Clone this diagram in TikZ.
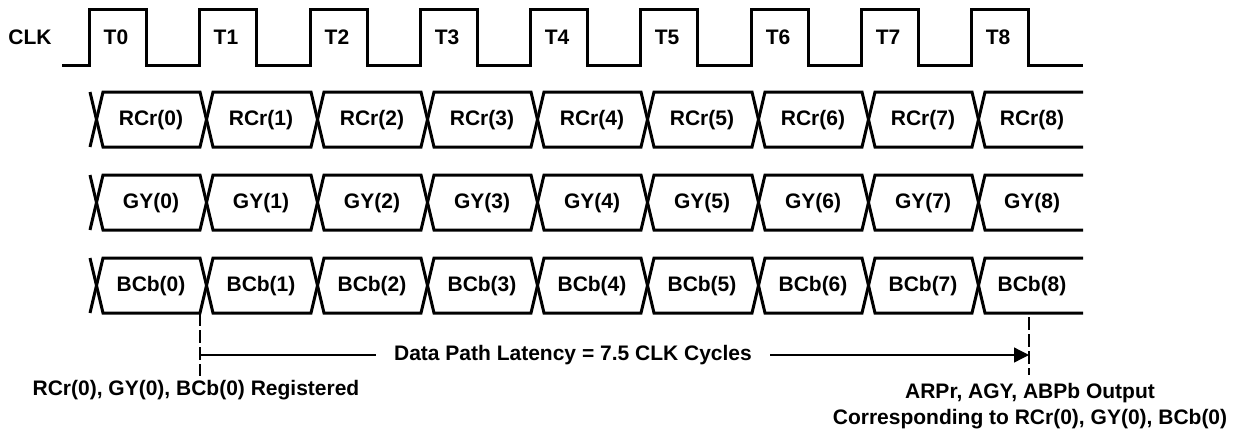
\documentclass[tikz,border=0pt]{standalone}
\usepackage{fontspec}
\setmainfont{Liberation Sans}
\usepackage{tikz}
\usetikzlibrary{arrows.meta}

\tikzset{
  wave/.style={line width=1.5pt, line join=miter, line cap=butt},
  lbl/.style={font=\fontsize{10.5}{13}\selectfont\bfseries, inner sep=0pt},
  mark line/.style={line width=0.65pt, dash pattern=on 6.5pt off 2pt},
  latency/.style={line width=0.65pt}
}

\newcommand{\datarails}{%
  \draw[wave] (90,0)--(103,55)--(200,55)--(213,0)--(311,0)--(324,55)--(421,55)--(434,0)--(531,0)--(544,55)--(641,55)--(654,0)--(752,0)--(765,55)--(862,55)--(875,0)--(972,0)--(985,55)--(1083,55);
  \draw[wave] (90,55)--(103,0)--(200,0)--(213,55)--(311,55)--(324,0)--(421,0)--(434,55)--(531,55)--(544,0)--(641,0)--(654,55)--(752,55)--(765,0)--(862,0)--(875,55)--(972,55)--(985,0)--(1083,0);
}

\begin{document}
\begin{tikzpicture}[x=0.5pt, y=-0.5pt]
\useasboundingbox (0,0) rectangle (1238,435);

\draw[wave] (62,65)--(89,65)--(89,9)--(146,9)--(146,65)--(199,65)--(199,9)--(256,9)--(256,65)
  --(310,65)--(310,9)--(367,9)--(367,65)--(420,65)--(420,9)--(477,9)--(477,65)
  --(530,65)--(530,9)--(587,9)--(587,65)--(640,65)--(640,9)--(697,9)--(697,65)
  --(751,65)--(751,9)--(808,9)--(808,65)--(861,65)--(861,9)--(918,9)--(918,65)
  --(971,65)--(971,9)--(1028,9)--(1028,65)--(1083,65);

\node[lbl] (clk) at (30,37) {CLK};
\node[lbl] (t0) at (116,37) {T0};
\node[lbl] (t1) at (226,37) {T1};
\node[lbl] (t2) at (337,37) {T2};
\node[lbl] (t3) at (447,37) {T3};
\node[lbl] (t4) at (557,37) {T4};
\node[lbl] (t5) at (667,37) {T5};
\node[lbl] (t6) at (778,37) {T6};
\node[lbl] (t7) at (888,37) {T7};
\node[lbl] (t8) at (998,37) {T8};

\begin{scope}[shift={(0,92)}]
\datarails
\end{scope}
\begin{scope}[shift={(0,175)}]
\datarails
\end{scope}
\begin{scope}[shift={(0,258)}]
\datarails
\end{scope}

\node[lbl] (rcr0) at (151,120) {RCr(0)};
\node[lbl] (rcr1) at (261,120) {RCr(1)};
\node[lbl] (rcr2) at (372,120) {RCr(2)};
\node[lbl] (rcr3) at (482,120) {RCr(3)};
\node[lbl] (rcr4) at (592,120) {RCr(4)};
\node[lbl] (rcr5) at (702,120) {RCr(5)};
\node[lbl] (rcr6) at (813,120) {RCr(6)};
\node[lbl] (rcr7) at (923,120) {RCr(7)};
\node[lbl] (rcr8) at (1032,120) {RCr(8)};

\node[lbl] (gy0) at (151,203) {GY(0)};
\node[lbl] (gy1) at (261,203) {GY(1)};
\node[lbl] (gy2) at (372,203) {GY(2)};
\node[lbl] (gy3) at (482,203) {GY(3)};
\node[lbl] (gy4) at (592,203) {GY(4)};
\node[lbl] (gy5) at (702,203) {GY(5)};
\node[lbl] (gy6) at (813,203) {GY(6)};
\node[lbl] (gy7) at (923,203) {GY(7)};
\node[lbl] (gy8) at (1032,203) {GY(8)};

\node[lbl] (bcb0) at (151,286) {BCb(0)};
\node[lbl] (bcb1) at (261,286) {BCb(1)};
\node[lbl] (bcb2) at (372,286) {BCb(2)};
\node[lbl] (bcb3) at (482,286) {BCb(3)};
\node[lbl] (bcb4) at (592,286) {BCb(4)};
\node[lbl] (bcb5) at (702,286) {BCb(5)};
\node[lbl] (bcb6) at (813,286) {BCb(6)};
\node[lbl] (bcb7) at (923,286) {BCb(7)};
\node[lbl] (bcb8) at (1032,286) {BCb(8)};

\coordinate (regtop) at (200,313);
\coordinate (regbot) at (200,376);
\coordinate (regmid) at (200,355);
\coordinate (outtop) at (1029,317);
\coordinate (outbot) at (1029,375);
\coordinate (outmid) at (1029,355);

\draw[mark line] (regtop) -- (regbot);
\draw[mark line] (outtop) -- (outbot);

\node[lbl, inner xsep=9pt] (lat) at (573,355) {Data Path Latency = 7.5 CLK Cycles};
\draw[latency] (regmid) -- (lat.west);
\draw[latency, -{Triangle[length=7.5pt, width=7.5pt]}] (lat.east) -- (outmid);

\node[lbl] (regtxt) at (196,390) {RCr(0), GY(0), BCb(0) Registered};
\node[lbl, align=center] (outtxt) at (1030,406) {ARPr, AGY, ABPb Output\\Corresponding to RCr(0), GY(0), BCb(0)};
\end{tikzpicture}
\end{document}
